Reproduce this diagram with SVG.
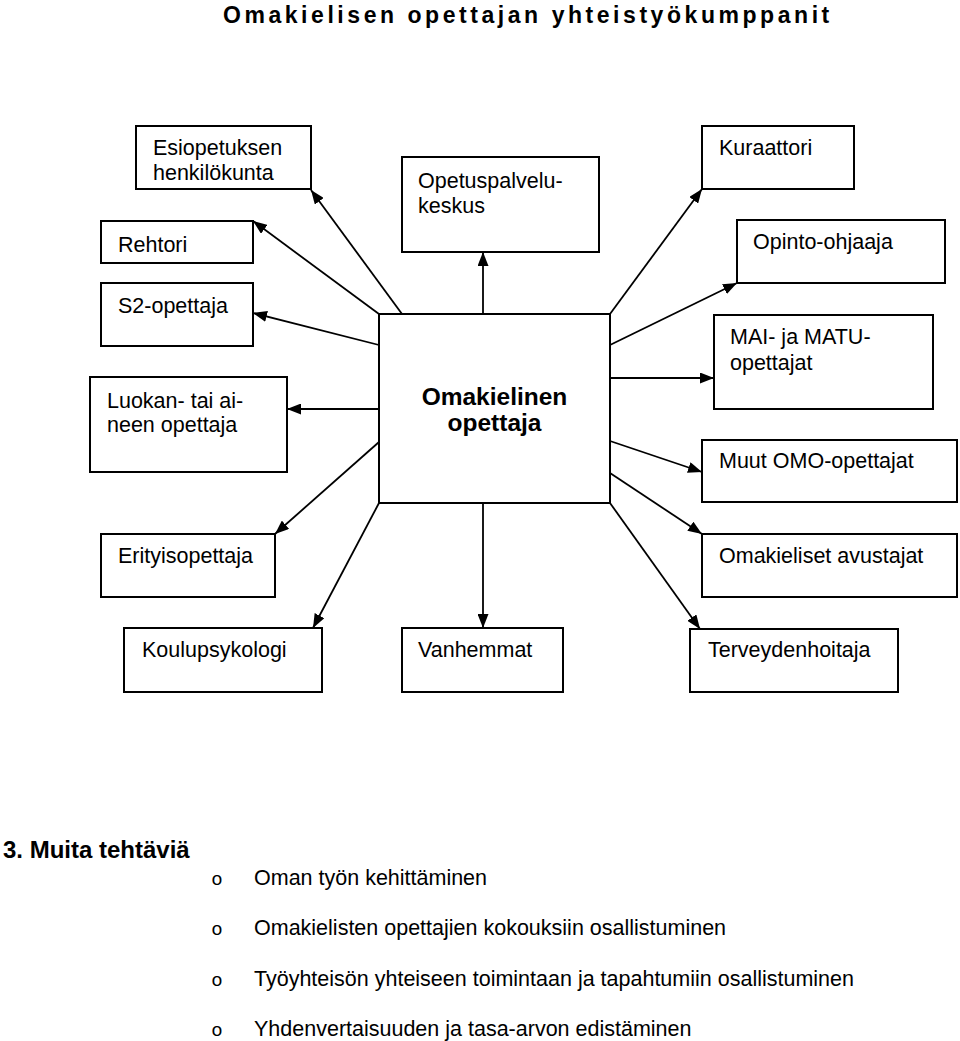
<svg xmlns="http://www.w3.org/2000/svg" width="960" height="1041" viewBox="0 0 960 1041">
<defs>
<marker id="arr" markerUnits="userSpaceOnUse" markerWidth="15" markerHeight="11" refX="14" refY="5.5" orient="auto">
<path d="M0,0 L14,5.5 L0,11 z" fill="#000"/>
</marker>
<style>
.box{fill:#fff;stroke:#000;stroke-width:2}
.t{font-family:"Liberation Sans",Arial,sans-serif;font-size:21.5px;fill:#000}
.b{font-family:"Liberation Sans",Arial,sans-serif;font-weight:bold;fill:#000}
.c{fill:none;stroke:#000;stroke-width:1.8;marker-end:url(#arr)}
.bul{font-family:"Liberation Mono","Courier New",monospace;font-size:19px;fill:#000}
</style>
</defs>
<rect width="960" height="1041" fill="#fff"/>
<text class="b" x="223" y="23" font-size="23" letter-spacing="3.55">Omakielisen opettajan yhteistyökumppanit</text>

<g id="connectors">
<line class="c" x1="402" y1="314" x2="311" y2="190"/>
<line class="c" x1="379" y1="314" x2="253" y2="221"/>
<line class="c" x1="379" y1="345" x2="253" y2="313"/>
<line class="c" x1="379" y1="409" x2="287" y2="409"/>
<line class="c" x1="379" y1="442" x2="275" y2="534"/>
<line class="c" x1="379" y1="503" x2="313" y2="628"/>
<line class="c" x1="483" y1="503" x2="483" y2="628"/>
<line class="c" x1="610" y1="503" x2="700" y2="629"/>
<line class="c" x1="610" y1="473" x2="702" y2="534"/>
<line class="c" x1="610" y1="441" x2="702" y2="472"/>
<line class="c" x1="610" y1="378" x2="714" y2="378"/>
<line class="c" x1="610" y1="345" x2="737" y2="283"/>
<line class="c" x1="610" y1="314" x2="702" y2="189"/>
<line class="c" x1="483" y1="314" x2="483" y2="252"/>
</g>

<g id="center"><rect class="box" x="379" y="314" width="231" height="189"/>
<text class="b" x="494.5" y="405" font-size="24.5" text-anchor="middle">Omakielinen</text>
<text class="b" x="494.5" y="431" font-size="24.5" text-anchor="middle">opettaja</text></g>

<g id="esiopetus"><rect class="box" x="136" y="126" width="175" height="63"/>
<text class="t" x="153" y="155">Esiopetuksen</text><text class="t" x="153" y="180">henkilökunta</text></g>
<g id="rehtori"><rect class="box" x="101" y="221" width="152" height="42"/>
<text class="t" x="118" y="252">Rehtori</text></g>
<g id="s2"><rect class="box" x="101" y="283" width="152" height="63"/>
<text class="t" x="118" y="313">S2-opettaja</text></g>
<g id="luokan"><rect class="box" x="90" y="377" width="197" height="95"/>
<text class="t" x="107" y="408">Luokan- tai ai-</text><text class="t" x="107" y="432">neen opettaja</text></g>
<g id="erityis"><rect class="box" x="101" y="534" width="174" height="63"/>
<text class="t" x="118" y="563">Erityisopettaja</text></g>
<g id="koulu"><rect class="box" x="124" y="628" width="198" height="64"/>
<text class="t" x="142" y="657">Koulupsykologi</text></g>
<g id="vanhemmat"><rect class="box" x="402" y="628" width="161" height="64"/>
<text class="t" x="418" y="657">Vanhemmat</text></g>
<g id="opetuspalvelu"><rect class="box" x="402" y="157" width="197" height="95"/>
<text class="t" x="418" y="188">Opetuspalvelu-</text><text class="t" x="418" y="213">keskus</text></g>
<g id="kuraattori"><rect class="box" x="702" y="126" width="152" height="63"/>
<text class="t" x="719" y="155">Kuraattori</text></g>
<g id="opinto"><rect class="box" x="737" y="220" width="208" height="63"/>
<text class="t" x="753" y="249">Opinto-ohjaaja</text></g>
<g id="mai"><rect class="box" x="714" y="315" width="219" height="94"/>
<text class="t" x="730" y="344">MAI- ja MATU-</text><text class="t" x="730" y="370">opettajat</text></g>
<g id="muut"><rect class="box" x="702" y="440" width="255" height="62"/>
<text class="t" x="719" y="468">Muut OMO-opettajat</text></g>
<g id="avustajat"><rect class="box" x="702" y="534" width="255" height="63"/>
<text class="t" x="719" y="563">Omakieliset avustajat</text></g>
<g id="terveys"><rect class="box" x="690" y="629" width="208" height="63"/>
<text class="t" x="708" y="657">Terveydenhoitaja</text></g>

<g id="tasks">
<text class="b" x="3" y="858" font-size="24">3. Muita tehtäviä</text>
<text class="bul" x="217" y="885" text-anchor="middle">o</text>
<text class="t" x="254" y="885" font-size="22">Oman työn kehittäminen</text>
<text class="bul" x="217" y="935" text-anchor="middle">o</text>
<text class="t" x="254" y="935" font-size="22">Omakielisten opettajien kokouksiin osallistuminen</text>
<text class="bul" x="217" y="986" text-anchor="middle">o</text>
<text class="t" x="254" y="986" font-size="22">Työyhteisön yhteiseen toimintaan ja tapahtumiin osallistuminen</text>
<text class="bul" x="217" y="1036" text-anchor="middle">o</text>
<text class="t" x="254" y="1036" font-size="22">Yhdenvertaisuuden ja tasa-arvon edistäminen</text>
</g>
</svg>
